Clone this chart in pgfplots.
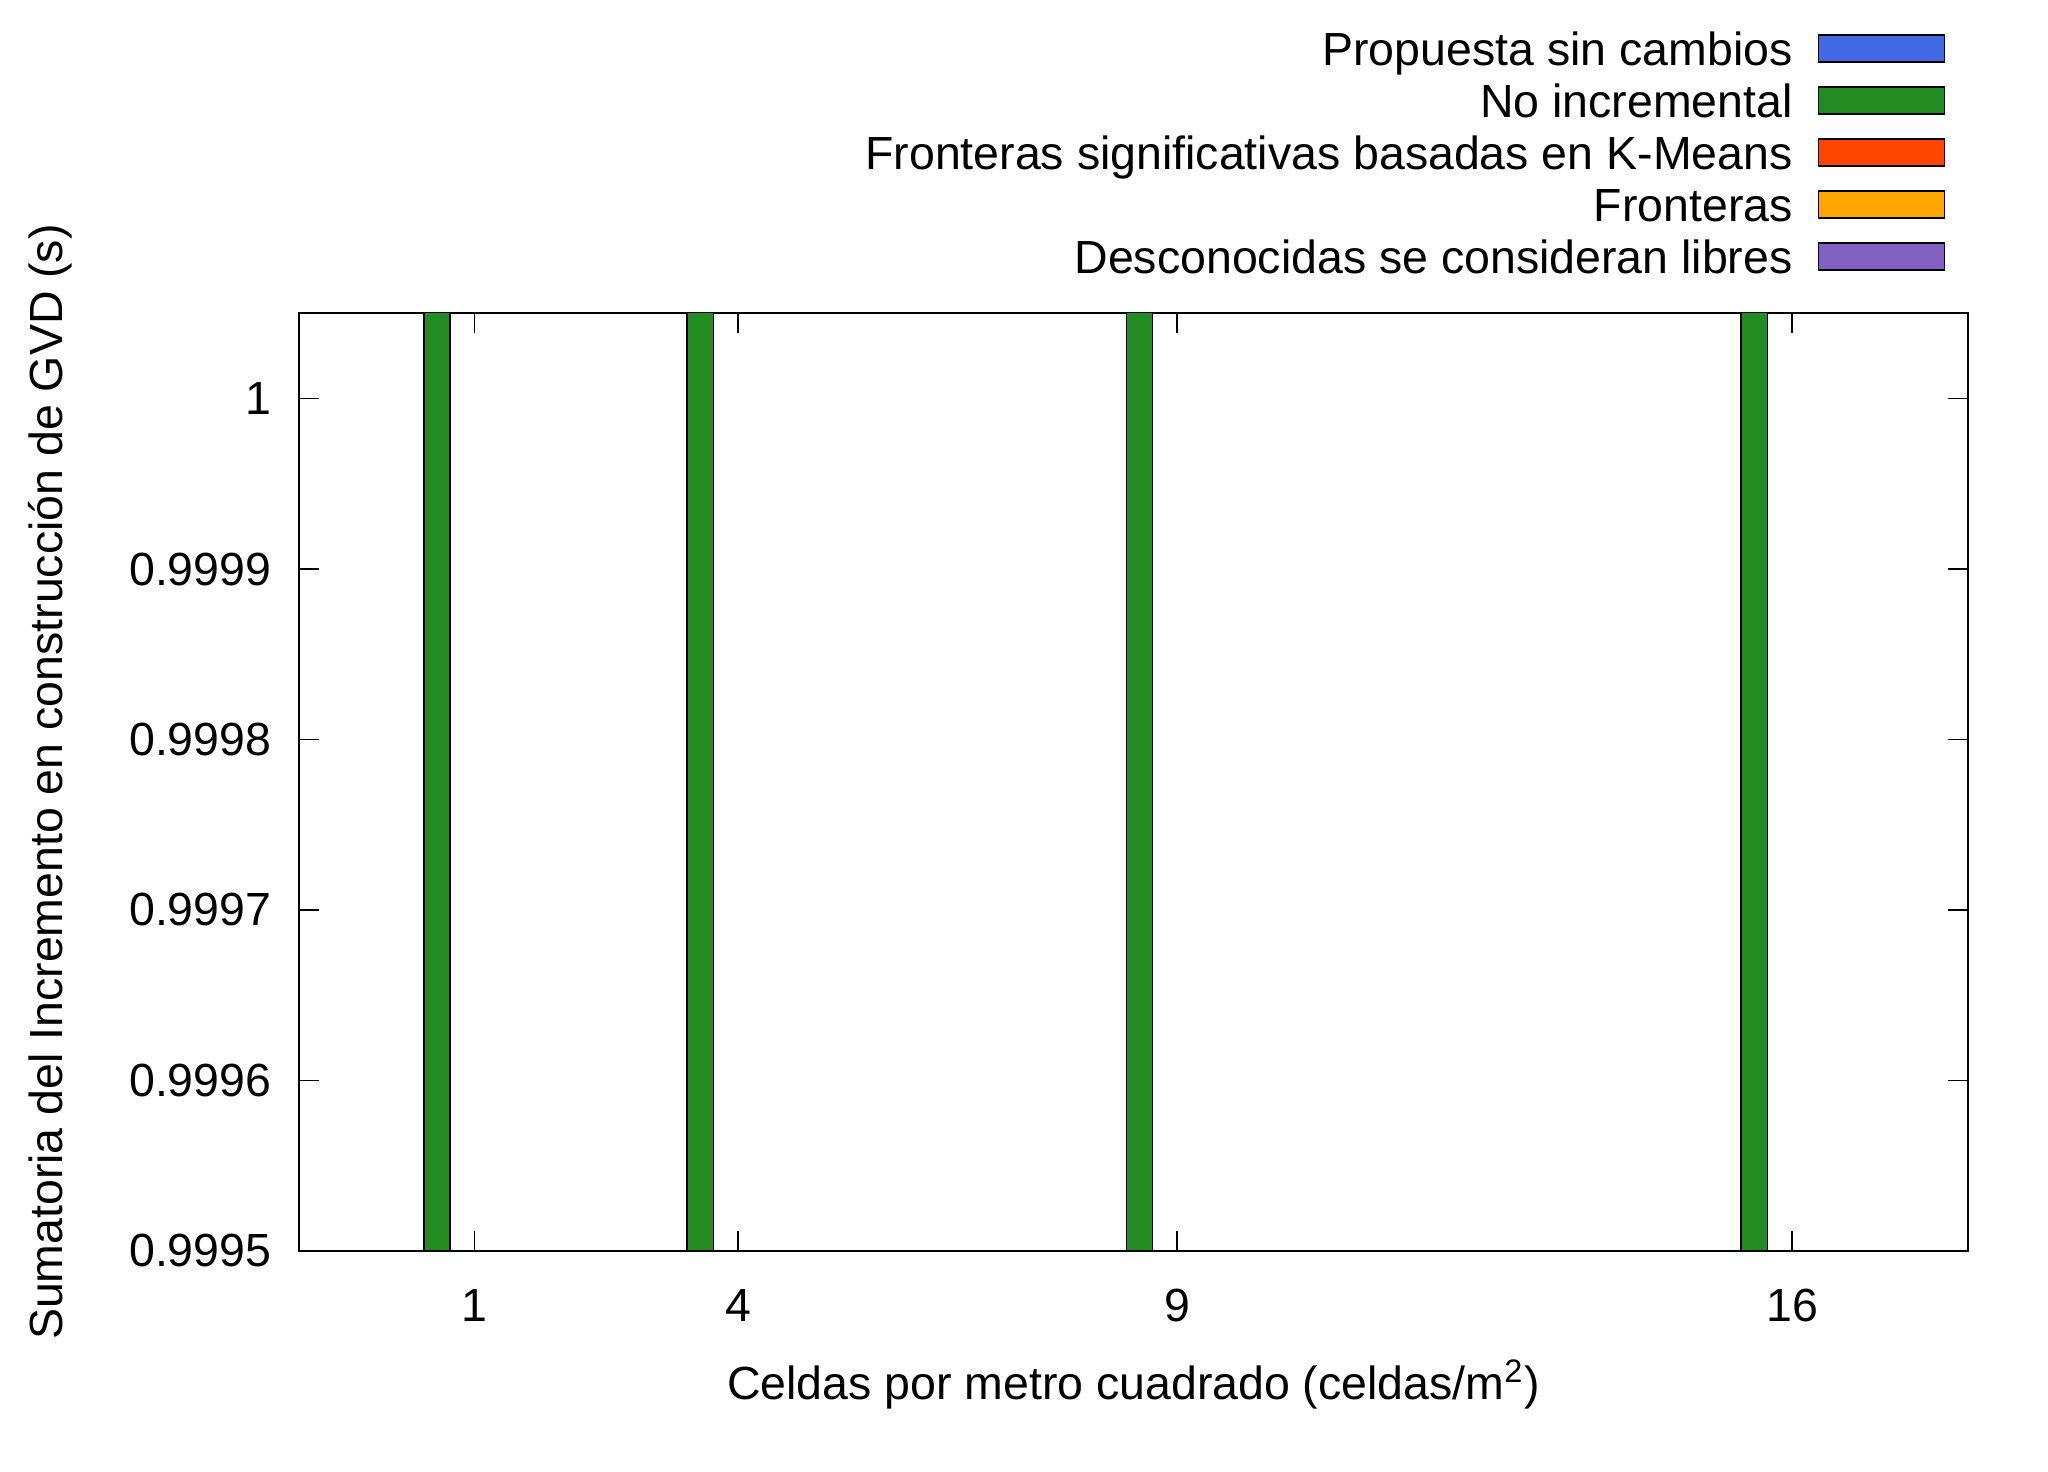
\documentclass[border=0pt]{standalone}
\usepackage{fontspec}
\setmainfont{Liberation Sans}
\usepackage{pgfplots}
\pgfplotsset{compat=1.18}
\definecolor{cblue}{HTML}{4169E1}
\definecolor{cgreen}{HTML}{228B22}
\definecolor{cred}{HTML}{FF4500}
\definecolor{corange}{HTML}{FFA500}
\definecolor{cpurple}{HTML}{8060C0}
\newcommand\shiftY[1]{\begingroup\pgfkeys{/pgf/fpu=true,/pgf/fpu/output format=fixed}\pgfmathparse{(#1-0.9995)*10000}\xdef\myYtmp{\pgfmathresult}\endgroup\let\pgfmathresult\myYtmp}
\newcommand\unshiftY[1]{\begingroup\pgfkeys{/pgf/fpu=true,/pgf/fpu/output format=fixed}\pgfmathparse{#1/10000+0.9995}\xdef\myYtmp{\pgfmathresult}\endgroup\let\pgfmathresult\myYtmp}
\begin{document}
\fontsize{14.3pt}{17pt}\selectfont
\begin{tikzpicture}
\useasboundingbox (-92pt,-68pt) rectangle (538.2pt,384.9pt);
\begin{axis}[
  at={(0pt,0pt)}, anchor=south west,
  scale only axis, width=513.5pt, height=288.5pt,
  y coord trafo/.code={\shiftY{#1}},
  y coord inv trafo/.code={\unshiftY{#1}},
  xmin=-1, xmax=18, ymin=0.9995, ymax=1.00005,
  xtick={1,4,9,16},
  ytick={0.9995,0.9996,0.9997,0.9998,0.9999,1},
  yticklabels={0.9995,0.9996,0.9997,0.9998,0.9999,1},
  /pgf/number format/assume math mode=true,
  tick align=inside,
  major tick length=6.2pt,
  tick style={black, line width=0.5pt},
  axis line style={black, line width=0.6pt},
  xticklabel style={anchor=base, inner sep=0pt, yshift=-21.6pt},
  yticklabel style={anchor=east, inner sep=0pt, xshift=-8.3pt},
  xlabel={Celdas por metro cuadrado (celdas/m\textsuperscript{2})},
  ylabel={Sumatoria del Incremento en construcción de GVD (s)},
  xlabel style={at={(axis description cs:0.5,-0.1588)}, anchor=base, inner sep=0pt},
  ylabel style={at={(axis description cs:-0.1488,0.5)}, anchor=center, inner sep=0pt},
  legend image code/.code={\draw[#1, line width=0.5pt] (0pt,-2.98pt) rectangle (38.8pt,5.22pt);},
  legend plot pos=right,
  legend cell align=right,
  legend style={at={(axis description cs:0.9870,1.3071)}, anchor=north east,
    draw=none, fill=none, inner sep=0pt, column sep=7.7pt, row sep=0pt,
    nodes={inner sep=0pt, text height=12pt, text depth=4pt}},
]
\addlegendimage{fill=cblue, draw=black}
\addplot[ybar, bar width=0.3, bar shift=-0.43, fill=cgreen, draw=black, line width=0.5pt]
  coordinates {(1,1.001) (4,1.001) (9,1.001) (16,1.001)};
\addlegendimage{fill=cred, draw=black}
\addlegendimage{fill=corange, draw=black}
\addlegendimage{fill=cpurple, draw=black}
\legend{Propuesta sin cambios, No incremental, Fronteras significativas basadas en K-Means, Fronteras, Desconocidas se consideran libres}
\end{axis}
\end{tikzpicture}
\end{document}
